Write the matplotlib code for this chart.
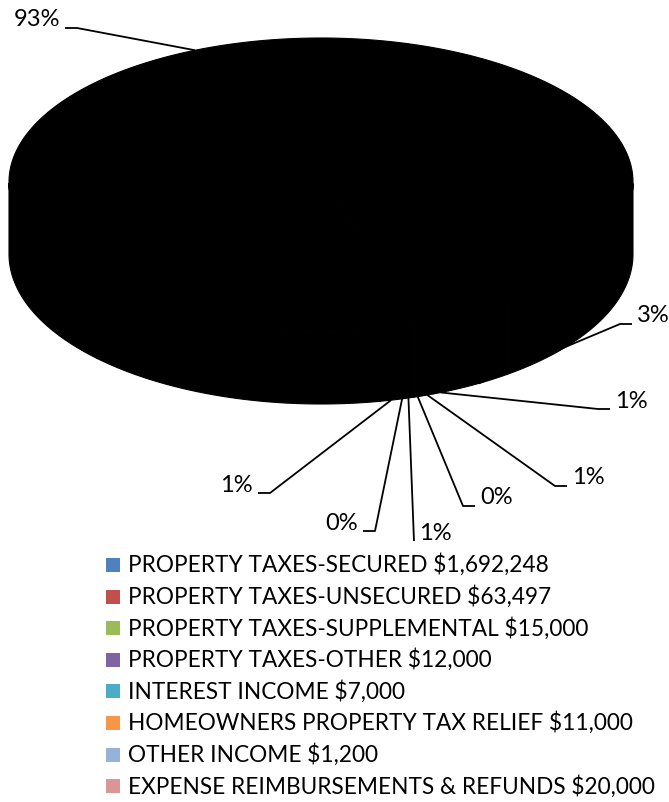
import numpy as np
import matplotlib.pyplot as plt
from matplotlib.patches import Polygon, Rectangle

plt.rcParams['font.family'] = ['Lato', 'DejaVu Sans']

categories = ['PROPERTY TAXES-SECURED', 'PROPERTY TAXES-UNSECURED',
              'PROPERTY TAXES-SUPPLEMENTAL', 'PROPERTY TAXES-OTHER',
              'INTEREST INCOME', 'HOMEOWNERS PROPERTY TAX RELIEF',
              'OTHER INCOME', 'EXPENSE REIMBURSEMENTS & REFUNDS']
amounts = [1692248, 63497, 15000, 12000, 7000, 11000, 1200, 20000]
legend_colors = ['#4F81BD', '#C0504D', '#9BBB59', '#8064A2',
                 '#4BACC6', '#F79646', '#95B3D7', '#D99694']

# label placement (tail end next to the text, side the text sits on)
label_xy = [(65, 28), (632, 324), (610, 409), (567, 486),
            (475, 506), (414, 541), (363, 531), (258, 493)]
label_side = [-1, 1, 1, 1, 1, 1, -1, -1]
tail_len = [12, 12, 12, 12, 12, 0, 12, 12]

W, H = 669, 802
fig = plt.figure(figsize=(W / 100, H / 100), dpi=100)
ax = fig.add_axes([0, 0, 1, 1])
ax.set_xlim(0, W)
ax.set_ylim(H, 0)
ax.axis('off')

# 3d pie geometry (pixels); front half a bit taller to fake perspective
cx, cy, R, depth = 321, 182, 312, 72
r_back, r_front = 144, 150
start = 281.0

vals = np.array(amounts, dtype=float)
frac = vals / vals.sum()
spans = frac * 360
ends = start - np.cumsum(spans)
starts = ends + spans


def rim(a, z=0):
    s = np.sin(a)
    rr = np.where(s < 0, r_front, r_back)
    return cx + R * np.cos(a), cy + z - rr * s


def runs(mask):
    out, cur = [], []
    for i, m in enumerate(mask):
        if m:
            cur.append(i)
        elif cur:
            out.append(cur)
            cur = []
    if cur:
        out.append(cur)
    return out


# side walls (front part only)
for s, e in zip(starts, ends):
    a = np.radians(np.linspace(s, e, 400))
    for idx in runs(np.sin(a) <= 0):
        if len(idx) < 2:
            continue
        aa = a[idx]
        tx, ty = rim(aa)
        bx, by = rim(aa[::-1], depth)
        pts = np.column_stack([np.r_[tx, bx], np.r_[ty, by]])
        ax.add_patch(Polygon(pts, closed=True, facecolor='black',
                             edgecolor='black', lw=0.8))

# top faces
for s, e in zip(starts, ends):
    a = np.radians(np.linspace(s, e, 400))
    tx, ty = rim(a)
    pts = np.column_stack([np.r_[cx, tx], np.r_[cy, ty]])
    ax.add_patch(Polygon(pts, closed=True, facecolor='black',
                         edgecolor='black', lw=0.8))

# data labels with leader lines
for i in range(len(amounts)):
    mid = np.radians((starts[i] + ends[i]) / 2)
    if np.sin(mid) < 0:
        px, py = rim(mid, depth)
    else:
        px, py = rim(mid)
    lx, ly = label_xy[i]
    side = label_side[i]
    ex = lx - side * tail_len[i]
    ax.plot([px, ex, lx], [py, ly, ly], color='black', lw=1.3,
            solid_capstyle='butt')
    pct = f"{int(round(frac[i] * 100))}%"
    ax.text(lx + side * 5, ly - 8, pct, fontsize=17,
            ha='left' if side > 0 else 'right', va='center')

# legend
y0, pitch = 565, 31.6
for i, (name, val) in enumerate(zip(categories, amounts)):
    y = y0 + i * pitch
    ax.add_patch(Rectangle((106, y - 7), 14, 14, facecolor=legend_colors[i],
                           edgecolor='none'))
    ax.text(128, y, f"{name} ${val:,}", fontsize=16.3, ha='left', va='center')

fig.savefig('out.png', dpi=100)
